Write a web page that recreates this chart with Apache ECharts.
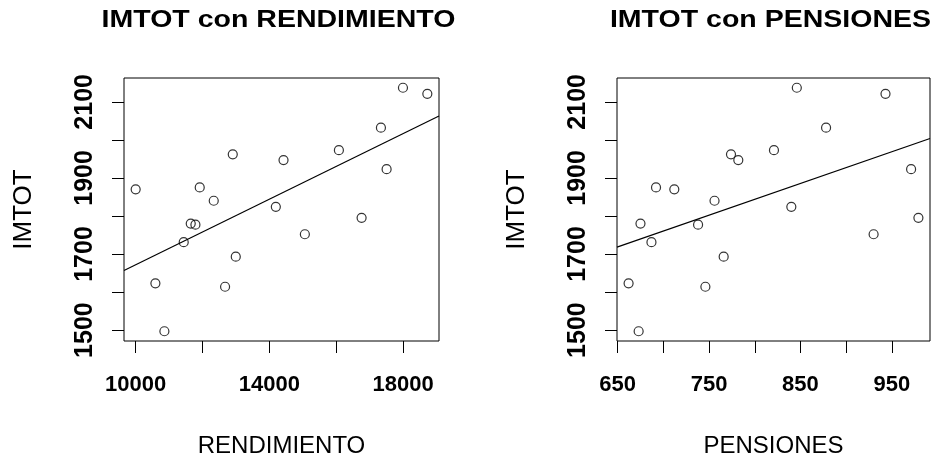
<!DOCTYPE html>
<html>
<head>
<meta charset="utf-8">
<script src="https://cdn.jsdelivr.net/npm/echarts@6/dist/echarts.min.js"></script>
<style>
  html, body { margin: 0; padding: 0; background: #fff; }
  #chart { width: 938px; height: 458px; }
</style>
</head>
<body>
<div id="chart"></div>
<script>
// Observations: total amount (IMTOT) against yield and pensions
const imtot = [1870, 1623, 1497, 1731, 1780, 1777, 1875, 1840, 1614, 1962,
               1693, 1824, 1947, 1752, 1973, 1795, 2032, 1923, 2137, 2121];
const rendimiento = [10000, 10590, 10859, 11437, 11647, 11787, 11916, 12335, 12674, 12904,
                     12994, 14192, 14422, 15060, 16078, 16757, 17335, 17505, 17994, 18723];
const pensiones = [712, 662, 673, 687, 675, 738, 692, 756, 746, 774,
                   766, 840, 782, 930, 821, 979, 878, 971, 846, 943];

// Tick positions and the subset that carries a label
const yTicks = [1500, 1600, 1700, 1800, 1900, 2000, 2100];
const yTickLabels = [1500, 1700, 1900, 2100];
const rendTicks = [10000, 12000, 14000, 16000, 18000];
const rendTickLabels = [10000, 14000, 18000];
const pensTicks = [650, 700, 750, 800, 850, 900, 950];
const pensTickLabels = [650, 750, 850, 950];

const titles = ['IMTOT con RENDIMIENTO', 'IMTOT con PENSIONES'];
const xNames = ['RENDIMIENTO', 'PENSIONES'];
const yName = 'IMTOT';

// Data range widened by 4% on each side
function padRange(v) {
  const lo = Math.min(...v), hi = Math.max(...v), p = (hi - lo) * 0.04;
  return [lo - p, hi + p];
}
// Least-squares line y = a + b x
function fitLine(x, y) {
  const n = x.length;
  const mx = x.reduce((s, v) => s + v, 0) / n;
  const my = y.reduce((s, v) => s + v, 0) / n;
  let sxy = 0, sxx = 0;
  for (let i = 0; i < n; i++) { sxy += (x[i] - mx) * (y[i] - my); sxx += (x[i] - mx) ** 2; }
  const b = sxy / sxx;
  return [my - b * mx, b];
}

const plain = v => String(v);
const yRange = padRange(imtot);
const panels = [
  { x: rendimiento, ticks: rendTicks, labels: rendTickLabels, grid: { left: 124, top: 78, width: 315, height: 263 } },
  { x: pensiones, ticks: pensTicks, labels: pensTickLabels, grid: { left: 617, top: 78, width: 313, height: 263 } }
];

const tickFont = { fontFamily: "'Liberation Sans', Arial, sans-serif", fontSize: 22, fontWeight: 'bold', color: '#000' };
const yLabelFont = { fontFamily: "'Liberation Sans', Arial, sans-serif", fontSize: 25, fontWeight: 'bold', color: '#000' };

const grids = [], xAxes = [], yAxes = [], series = [], graphics = [];
panels.forEach((p, i) => {
  grids.push(Object.assign({
    show: true, borderColor: '#000', borderWidth: 1, backgroundColor: 'transparent',
    containLabel: false, outerBoundsMode: 'none'
  }, p.grid));
  const xr = padRange(p.x);
  xAxes.push({
    type: 'value', gridIndex: i, min: xr[0], max: xr[1],
    axisLine: { show: false },
    splitLine: { show: false },
    axisTick: { show: true, length: 12, customValues: p.ticks, lineStyle: { color: '#000', width: 1 } },
    axisLabel: Object.assign({ margin: 33, customValues: p.labels, formatter: plain }, tickFont),
    name: xNames[i], nameLocation: 'middle', nameGap: 93,
    nameTextStyle: { fontFamily: "'Liberation Sans', Arial, sans-serif", fontSize: 24, color: '#000' }
  });
  yAxes.push({
    type: 'value', gridIndex: i, min: yRange[0], max: yRange[1],
    axisLine: { show: false },
    splitLine: { show: false },
    axisTick: { show: true, length: 12, customValues: yTicks, lineStyle: { color: '#000', width: 1 } },
    axisLabel: Object.assign({ margin: 26, rotate: 90, customValues: yTickLabels, formatter: plain }, yLabelFont),
    name: yName, nameLocation: 'middle', nameGap: 87, nameRotate: 90,
    nameTextStyle: { fontFamily: "'Liberation Sans', Arial, sans-serif", fontSize: 26, color: '#000' }
  });
  series.push({
    type: 'scatter', xAxisIndex: i, yAxisIndex: i,
    data: p.x.map((v, k) => [v, imtot[k]]),
    symbol: 'circle', symbolSize: 9,
    itemStyle: { color: 'rgba(0,0,0,0)', borderColor: '#000', borderWidth: 1.2 },
    emphasis: { disabled: true }, z: 3
  });
  const [a, b] = fitLine(p.x, imtot);
  series.push({
    type: 'line', xAxisIndex: i, yAxisIndex: i,
    data: [[xr[0], a + b * xr[0]], [xr[1], a + b * xr[1]]],
    symbol: 'none', lineStyle: { color: '#000', width: 1.2 }, clip: true, z: 2
  });
  graphics.push({
    type: 'text',
    x: p.grid.left + p.grid.width / 2 - 3, y: 9,
    scaleX: 1.24,
    style: { text: titles[i], textAlign: 'center', textVerticalAlign: 'top', fill: '#000',
             font: "bold 23px 'Liberation Sans', Arial, sans-serif" }
  });
});

const chart = echarts.init(document.getElementById('chart'), null, { renderer: 'canvas' });
chart.setOption({
  animation: false,
  backgroundColor: '#fff',
  grid: grids, xAxis: xAxes, yAxis: yAxes, series: series,
  graphic: graphics
});
</script>
</body>
</html>
